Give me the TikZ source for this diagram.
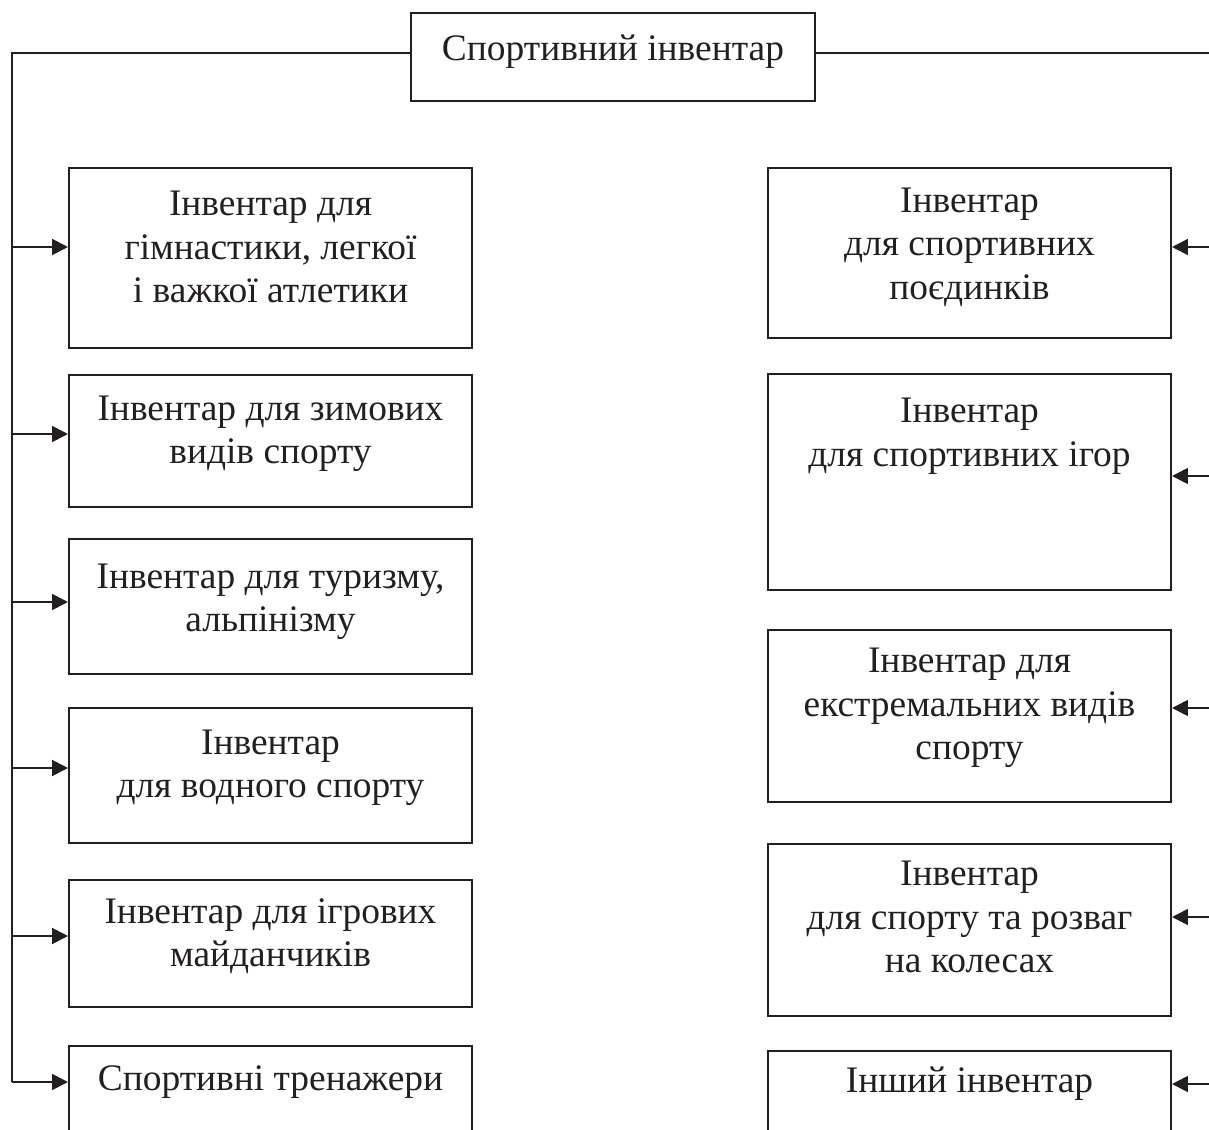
\documentclass[tikz,border=0pt]{standalone}
\usepackage{fontspec}
\setmainfont{Liberation Serif}
\usetikzlibrary{arrows.meta, positioning}
\definecolor{ink}{HTML}{231F20}

\begin{document}
\begin{tikzpicture}[x=0.02cm, y=-0.02cm, line width=1.1pt, draw=ink,
  every node/.style={font=\fontsize{21.3}{24.75}\selectfont, text=ink, align=center, inner sep=0pt},
  box/.style={draw=ink, line width=1.2pt, minimum width=8.06cm},
  link/.style={-{Triangle[length=9pt, width=9pt]}}]
\useasboundingbox (0,0) rectangle (1209,1129);
\clip (0,0) rectangle (1209,1129);

% Root
\node[box, minimum width=8.08cm, minimum height=1.76cm] (root) at (613,57) {};
\node (roott) at (613,52) {Спортивний інвентар};

% Left column
\node[box, minimum height=3.6cm] (l1) at (270.5,258) {};
\node (lt1) at (270.5,247) {Інвентар для\\гімнастики, легкої\\і важкої атлетики};
\node[box, minimum height=2.64cm] (l2) at (270.5,441) {};
\node (lt2) at (270.5,434) {Інвентар для зимових\\видів спорту};
\node[box, minimum height=2.7cm] (l3) at (270.5,606.5) {};
\node (lt3) at (270.5,602) {Інвентар для туризму,\\альпінізму};
\node[box, minimum height=2.7cm] (l4) at (270.5,775.5) {};
\node (lt4) at (270.5,768) {Інвентар\\для водного спорту};
\node[box, minimum height=2.54cm] (l5) at (270.5,943.5) {};
\node (lt5) at (270.5,936) {Інвентар для ігрових\\майданчиків};
\node[box, minimum height=3.2cm] (l6) at (270.5,1126) {};
\node (lt6) at (270.5,1082) {Спортивні тренажери};

% Right column
\node[box, minimum height=3.4cm] (r1) at (969.5,253) {};
\node (rt1) at (969.5,247) {Інвентар\\для спортивних\\поєдинків};
\node[box, minimum height=4.32cm] (r2) at (969.5,482) {};
\node (rt2) at (969.5,436) {Інвентар\\для спортивних ігор};
\node[box, minimum height=3.44cm] (r3) at (969.5,716) {};
\node (rt3) at (969.5,708) {Інвентар для\\екстремальних видів\\спорту};
\node[box, minimum height=3.44cm] (r4) at (969.5,930) {};
\node (rt4) at (969.5,917) {Інвентар\\для спорту та розваг\\на колесах};
\node[box, minimum height=3.2cm] (r5) at (969.5,1131) {};
\node (rt5) at (969.5,1084) {Інший інвентар};

% Trunks
\coordinate (ltrunk) at (12,53);
\coordinate (rtrunk) at (1212,53);
\draw (root.west |- ltrunk) -- (ltrunk) -- (ltrunk |- lt6);
\draw (root.east |- rtrunk) -- (rtrunk) -- (rtrunk |- rt5);

% Arrows
\foreach \n in {1,...,6}
  \draw[link] (ltrunk |- lt\n) -- (lt\n -| l\n.west);
\foreach \n in {1,3,4,5}
  \draw[link] (rtrunk |- rt\n) -- (rt\n -| r\n.east);
\coordinate (r2a) at ([yshift=0.12cm]r2.east);
\draw[link] (rtrunk |- r2a) -- (r2a);
\end{tikzpicture}
\end{document}
